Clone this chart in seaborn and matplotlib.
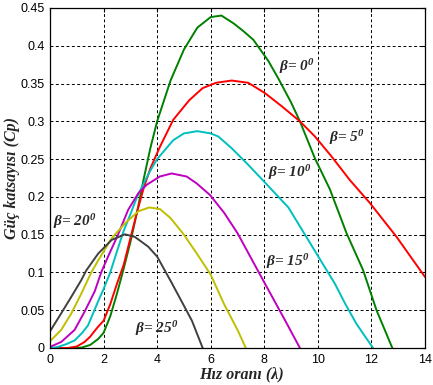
import numpy as np
import pandas as pd
import matplotlib
matplotlib.use("Agg")
import matplotlib.pyplot as plt
import seaborn as sns

# Cp - lambda curves, one pair of lists per pitch angle
lam_b0 = [0, 0.6, 1.17, 1.5, 1.8, 2.0, 2.25, 2.5, 2.75, 3.0, 3.25, 3.5, 3.75, 4.0, 4.5, 5.0, 5.5,
          6.0, 6.4, 6.84, 7.2, 7.59, 8.15, 8.52, 9.0, 9.33, 9.89, 10.45, 11.07, 11.69, 12.19, 12.78]
cp_b0 = [0, 0, 0.0005, 0.004, 0.012, 0.02, 0.042, 0.072, 0.105, 0.14, 0.18, 0.224, 0.265, 0.30,
         0.354, 0.395, 0.424, 0.438, 0.440, 0.430, 0.420, 0.408, 0.380, 0.357, 0.325, 0.300,
         0.251, 0.210, 0.152, 0.103, 0.050, 0.0]

lam_b5 = [0, 0.67, 1.0, 1.29, 1.5, 1.79, 2.0, 2.25, 2.5, 2.75, 3.0, 3.25, 3.5, 3.75, 4.1, 4.6,
          5.2, 5.7, 6.2, 6.78, 7.4, 8.02, 8.65, 9.33, 9.89, 10.5, 11.2, 11.94, 12.94, 14.0]
cp_b5 = [0, 0, 0.002, 0.008, 0.015, 0.028, 0.036, 0.058, 0.085, 0.110, 0.145, 0.180, 0.212,
         0.238, 0.266, 0.302, 0.328, 0.344, 0.351, 0.354, 0.351, 0.3375, 0.320, 0.300, 0.280,
         0.254, 0.222, 0.192, 0.147, 0.094]

lam_b10 = [0, 0.3, 0.6, 0.92, 1.2, 1.42, 1.8, 2.0, 2.25, 2.5, 2.75, 3.0, 3.25, 3.5, 3.75, 4.0,
           4.6, 5.0, 5.5, 6.0, 6.28, 6.78, 7.4, 8.0, 8.9, 9.64, 10.0, 10.63, 11.0, 11.44, 12.06]
cp_b10 = [0, 0.0015, 0.005, 0.010, 0.02, 0.03, 0.062, 0.078, 0.100, 0.128, 0.155, 0.177, 0.200,
          0.218, 0.235, 0.250, 0.275, 0.284, 0.287, 0.284, 0.280, 0.2645, 0.2425, 0.220, 0.186,
          0.143, 0.122, 0.0855, 0.060, 0.032, 0.0]

lam_b15 = [0, 0.42, 0.92, 1.29, 1.67, 1.91, 2.18, 2.54, 2.92, 3.3, 3.61, 4.1, 4.54, 5.1, 5.47,
           5.97, 6.5, 7.0, 8.02, 8.77, 9.33]
cp_b15 = [0.0015, 0.008, 0.024, 0.048, 0.075, 0.100, 0.122, 0.150, 0.183, 0.205, 0.216, 0.227,
          0.231, 0.227, 0.218, 0.2026, 0.179, 0.152, 0.0855, 0.037, 0.0]

lam_b20 = [0, 0.42, 0.8, 1.17, 1.54, 1.8, 2.3, 2.8, 3.3, 3.7, 4.1, 4.5, 5.0, 5.5, 6.0, 6.5, 7.0, 7.31]
cp_b20 = [0.009, 0.024, 0.046, 0.072, 0.100, 0.116, 0.145, 0.165, 0.181, 0.186, 0.184, 0.172,
          0.150, 0.124, 0.097, 0.058, 0.024, 0.0]

lam_b25 = [0, 0.42, 0.8, 1.17, 1.36, 1.8, 2.3, 2.8, 3.17, 3.67, 4.0, 4.5, 5.0, 5.3, 5.7]
cp_b25 = [0.022, 0.046, 0.068, 0.090, 0.103, 0.125, 0.143, 0.1505, 0.147, 0.134, 0.121, 0.089,
          0.056, 0.036, 0.0]

colors = ["#008000", "#ff0000", "#00bfbf", "#bf00bf", "#bfbf00", "#404040"]
curves = [(lam_b0, cp_b0), (lam_b5, cp_b5), (lam_b10, cp_b10),
          (lam_b15, cp_b15), (lam_b20, cp_b20), (lam_b25, cp_b25)]

# curve labels: text and where they sit (data coords)
labels = [r"β= 0$^{0}$", r"β= 5$^{0}$", r"β= 10$^{0}$", r"β= 15$^{0}$", r"β= 20$^{0}$", r"β= 25$^{0}$"]
label_x = [9.22, 11.07, 8.96, 8.89, 0.93, 3.98]
label_y = [0.372, 0.278, 0.232, 0.114, 0.167, 0.026]

sns.set_style("white")
plt.rcParams["mathtext.fontset"] = "custom"
plt.rcParams["mathtext.rm"] = "Liberation Serif:italic:bold"
plt.rcParams["mathtext.it"] = "Liberation Serif:italic:bold"
plt.rcParams["mathtext.bf"] = "Liberation Serif:italic:bold"

fig = plt.figure(figsize=(4.33, 3.85), dpi=100)
ax = fig.add_axes([50 / 433, 37 / 385, 375 / 433, 340 / 385])

for (xs, ys), c in zip(curves, colors):
    sns.lineplot(x=xs, y=ys, color=c, lw=1.4, sort=False, estimator=None, ax=ax)

ax.set_xlim(0, 14)
ax.set_ylim(0, 0.45)
ax.set_xticks(np.arange(0, 15, 2))
ax.set_yticks(np.arange(0, 0.451, 0.05))
ax.set_yticklabels(["%g" % round(v, 2) for v in np.arange(0, 0.451, 0.05)])
ax.grid(True, color="black", linestyle=(0, (3, 2.5)), lw=0.7)
for s in ax.spines.values():
    s.set_color("black")
    s.set_linewidth(0.9)
ax.tick_params(direction="in", length=3, top=True, right=True, labelsize=9,
               colors="black", pad=4)
for t in ax.get_xticklabels() + ax.get_yticklabels():
    t.set_fontfamily("Liberation Sans")

for txt, lx, ly in zip(labels, label_x, label_y):
    ax.text(lx, ly, txt, ha="center", va="center", fontsize=11, fontfamily="Liberation Serif",
            fontweight="bold", fontstyle="italic")

ax.set_xlabel("Hız oranı (λ)", fontsize=11.5, fontfamily="Liberation Serif",
              fontweight="bold", fontstyle="italic")
ax.set_ylabel("Güç katsayısı (Cp)", fontsize=11.5, fontfamily="Liberation Serif",
              fontweight="bold", fontstyle="italic")
ax.xaxis.set_label_coords(0.51, -0.055)
ax.yaxis.set_label_coords(-0.08, 0.5)

fig.savefig("out.png", dpi=100)
